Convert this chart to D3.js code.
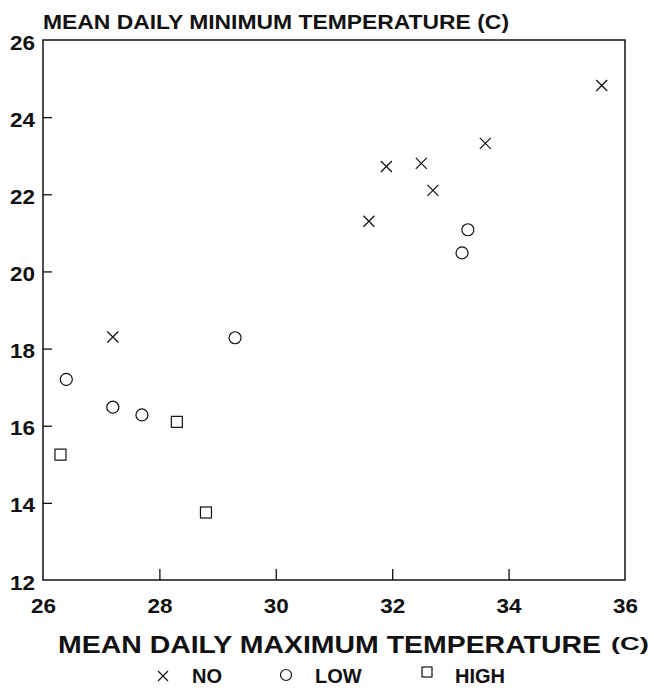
<!DOCTYPE html>
<html><head><meta charset="utf-8">
<script src="https://cdn.jsdelivr.net/npm/d3@7"></script>
<style>
body{margin:0;background:#fff;}
text{font-family:"Liberation Sans",Arial,Helvetica,sans-serif;font-weight:bold;fill:#111;}
</style></head>
<body>
<svg id="c" width="654" height="688"></svg>
<script>
const categories = ["NO","LOW","HIGH"];
const noX  = [35.6, 33.6, 31.9, 32.5, 32.7, 31.6, 27.2];
const noY  = [24.82, 23.32, 22.72, 22.80, 22.10, 21.30, 18.3];
const lowX = [33.3, 33.2, 29.3, 26.4, 27.2, 27.7];
const lowY = [21.08, 20.48, 18.28, 17.2, 16.48, 16.28];
const highX = [28.3, 26.3, 28.8];
const highY = [16.1, 15.25, 13.75];
const xTicks = [26,28,30,32,34,36];
const yTicks = [12,14,16,18,20,22,24,26];

const svg = d3.select("#c");
const x = d3.scaleLinear().domain([26,36]).range([43,625]);
const y = d3.scaleLinear().domain([12,26]).range([580,40]);

// frame
svg.append("rect").attr("x",x(26)).attr("y",y(26))
  .attr("width",x(36)-x(26)).attr("height",y(12)-y(26))
  .attr("fill","none").attr("stroke","#111").attr("stroke-width",1.5);

const ya = svg.append("g").attr("transform",`translate(${x(26)},0)`)
  .call(d3.axisLeft(y).tickValues(yTicks).tickSize(-9).tickPadding(8).tickFormat(d3.format("d")));
const xa = svg.append("g").attr("transform",`translate(0,${y(12)})`)
  .call(d3.axisBottom(x).tickValues(xTicks).tickSize(-11).tickPadding(19).tickFormat(d3.format("d")));
[ya,xa].forEach(g=>{
  g.select(".domain").remove();
  g.selectAll("line").attr("stroke","#111").attr("stroke-width",1.3);
  g.selectAll("text").style("font-size","20px").attr("fill","#111")
   .style("font-family",'"Liberation Sans",Arial,sans-serif').style("font-weight","bold")
   .attr("textLength",25).attr("lengthAdjust","spacingAndGlyphs");
});
ya.selectAll(".tick").filter(d=>d===12||d===26).select("line").remove();
xa.selectAll(".tick").filter(d=>d===26||d===36).select("line").remove();
ya.selectAll("text").attr("dy","0.45em");

// titles
svg.append("text").attr("x",43).attr("y",28.5).style("font-size","20px")
  .attr("textLength",466).attr("lengthAdjust","spacingAndGlyphs")
  .text("MEAN DAILY MINIMUM TEMPERATURE (C)");
svg.append("text").attr("x",58).attr("y",653).style("font-size","24px")
  .attr("textLength",543).attr("lengthAdjust","spacingAndGlyphs")
  .text("MEAN DAILY MAXIMUM TEMPERATURE");
svg.append("text").attr("x",611).attr("y",650).style("font-size","18px")
  .attr("textLength",38).attr("lengthAdjust","spacingAndGlyphs")
  .text("(C)");

// markers
function drawSym(g, type, cx, cy, s){
  if(type==="NO"){
    g.append("path").attr("d",`M${cx-s},${cy-s}L${cx+s},${cy+s}M${cx-s},${cy+s}L${cx+s},${cy-s}`)
     .attr("stroke","#111").attr("stroke-width",1.2).attr("fill","none");
  } else if(type==="LOW"){
    g.append("circle").attr("cx",cx).attr("cy",cy).attr("r",s)
     .attr("stroke","#111").attr("stroke-width",1.2).attr("fill","none");
  } else {
    g.append("rect").attr("x",cx-s).attr("y",cy-s).attr("width",2*s).attr("height",2*s)
     .attr("stroke","#111").attr("stroke-width",1.2).attr("fill","none");
  }
}
const series = [[noX,noY,"NO",5.5],[lowX,lowY,"LOW",6],[highX,highY,"HIGH",5.5]];
const pg = svg.append("g");
series.forEach(([xs,ys,t,s])=>{
  xs.forEach((v,i)=>drawSym(pg,t,x(v),y(ys[i]),s));
});

// legend
const legSym = [163, 286, 427];
const legTxt = [192, 315, 455];
const legY = [676, 675, 672];
const lg = svg.append("g");
categories.forEach((c,i)=>{
  drawSym(lg,c,legSym[i],legY[i],c==="LOW"?5.5:5);
  lg.append("text").attr("x",legTxt[i]).attr("y",683).style("font-size","20px").text(c);
});
</script>
</body></html>
